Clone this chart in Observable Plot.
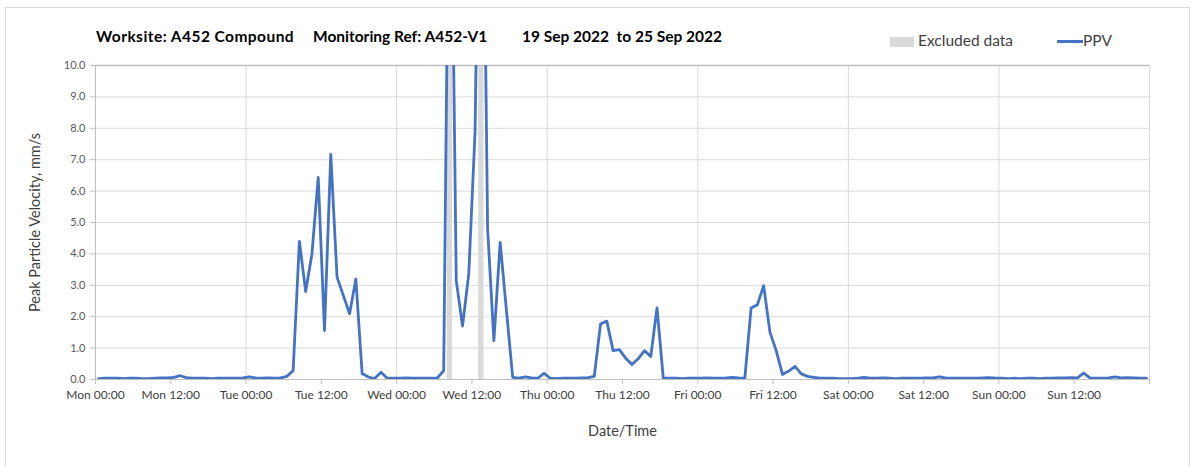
<!DOCTYPE html>
<html>
<head>
<meta charset="utf-8">
<script src="https://cdn.jsdelivr.net/npm/d3@7"></script>
<script src="https://cdn.jsdelivr.net/npm/@observablehq/plot@0.6"></script>
<style>
  body { margin: 0; background: #fff; font-family: Lato, "Open Sans", sans-serif; }
  #wrap { position: relative; width: 1203px; height: 466px; overflow: hidden; }
  #frame { position: absolute; left: 5px; top: 7px; width: 1185px; height: 470px; border: 1px solid #d9d9d9; box-sizing: border-box; }
  .title { position: absolute; top: 27px; font-weight: bold; font-size: 15.5px; color: #000; white-space: pre; }
  .leg { position: absolute; top: 31px; font-size: 15.5px; color: #404040; white-space: pre; }
  #chart { position: absolute; left: 0; top: 0; }
</style>
</head>
<body>
<div id="wrap">
  <div id="frame"></div>
  <div class="title" style="left:96px;letter-spacing:0.45px">Worksite: A452 Compound</div>
  <div class="title" style="left:313px">Monitoring Ref: A452-V1</div>
  <div class="title" style="left:522px">19 Sep 2022  to 25 Sep 2022</div>
  <div style="position:absolute;left:890px;top:37px;width:24px;height:10px;background:#d9d9d9"></div>
  <div class="leg" style="left:918px">Excluded data</div>
  <div style="position:absolute;left:1057px;top:40px;width:26px;height:3px;background:#4472C4"></div>
  <div class="leg" style="left:1083px">PPV</div>
  <div id="chart"></div>
</div>
<script>
// Hourly PPV values (mm/s), one row per day, Mon 19 Sep 2022 .. Sun 25 Sep 2022
const ppvMon = [0.03,0.04,0.04,0.04,0.03,0.04,0.04,0.03,0.03,0.04,0.05,0.05,0.07,0.12,0.06,0.04,0.04,0.04,0.03,0.04,0.04,0.04,0.04,0.05];
const ppvTue = [0.08,0.05,0.04,0.05,0.04,0.05,0.1,0.28,4.4,2.8,4.0,6.44,1.56,7.17,3.26,2.68,2.09,3.2,0.19,0.08,0.03,0.23,0.04,0.04];
const ppvWed = [0.04,0.05,0.04,0.04,0.04,0.04,0.05,0.28,20,3.15,1.7,3.37,7.9,22,4.8,1.24,4.37,2.2,0.07,0.04,0.08,0.05,0.04,0.2];
const ppvThu = [0.04,0.03,0.04,0.04,0.04,0.05,0.06,0.1,1.77,1.86,0.92,0.95,0.68,0.48,0.66,0.92,0.73,2.28,0.04,0.04,0.04,0.03,0.04,0.04];
const ppvFri = [0.04,0.05,0.04,0.04,0.05,0.07,0.05,0.04,2.28,2.38,2.99,1.51,0.92,0.16,0.27,0.42,0.18,0.1,0.07,0.04,0.04,0.04,0.03,0.03];
const ppvSat = [0.03,0.04,0.07,0.04,0.04,0.05,0.04,0.03,0.04,0.04,0.04,0.04,0.05,0.05,0.08,0.05,0.04,0.04,0.04,0.04,0.04,0.05,0.06,0.04];
const ppvSun = [0.04,0.03,0.04,0.03,0.04,0.04,0.03,0.04,0.04,0.05,0.05,0.06,0.05,0.2,0.05,0.04,0.04,0.05,0.08,0.05,0.06,0.05,0.04,0.04];

// Excluded data periods (UTC clock times)
const excludedStart = ["2022-09-21T08:05Z", "2022-09-21T13:05Z"];
const excludedEnd   = ["2022-09-21T08:55Z", "2022-09-21T13:55Z"];

const xTickLabels = ["Mon 00:00","Mon 12:00","Tue 00:00","Tue 12:00","Wed 00:00","Wed 12:00","Thu 00:00","Thu 12:00","Fri 00:00","Fri 12:00","Sat 00:00","Sat 12:00","Sun 00:00","Sun 12:00",""];
const yTicks = [0,1,2,3,4,5,6,7,8,9,10];
const yLabel = "Peak Particle Velocity, mm/s";
const xLabel = "Date/Time";

const start = new Date(Date.UTC(2022, 8, 19, 0, 0));
const end = new Date(Date.UTC(2022, 8, 26, 0, 0));
const H = 3600e3;

const values = [...ppvMon, ...ppvTue, ...ppvWed, ...ppvThu, ...ppvFri, ...ppvSat, ...ppvSun];
const data = values.map((v, i) => ({time: new Date(+start + (i + 0.5) * H), ppv: v}));
const excluded = excludedStart.map((s, i) => ({start: new Date(s), end: new Date(excludedEnd[i])}));
const xTicks = xTickLabels.map((_, i) => new Date(+start + i * 12 * H));
const dayTicks = xTicks.filter((_, i) => i % 2 === 0 && i > 0);

const chart = Plot.plot({
  width: 1203,
  height: 466,
  marginLeft: 95,
  marginRight: 54,
  marginTop: 65,
  marginBottom: 87,
  style: {fontFamily: "Lato, 'Open Sans', sans-serif", background: "transparent", color: "#595959"},
  x: {type: "utc", domain: [start, end]},
  y: {domain: [0, 10]},
  marks: [
    Plot.rect(excluded, {x1: "start", x2: "end", y1: 0, y2: 10, fill: "#d9d9d9"}),
    Plot.gridY(yTicks, {stroke: "#d9d9d9", strokeOpacity: 1, strokeWidth: 1}),
    Plot.gridX(dayTicks, {stroke: "#d9d9d9", strokeOpacity: 1, strokeWidth: 1}),
    Plot.ruleY([10], {stroke: "#bfbfbf", strokeWidth: 1.5}),
    Plot.ruleX([start], {stroke: "#bfbfbf", strokeWidth: 1}),
    Plot.ruleY([0], {stroke: "#bfbfbf", strokeWidth: 1}),
    Plot.axisY(yTicks, {tickFormat: d => d.toFixed(1), tickSize: 5, tickPadding: 5, stroke: "#bfbfbf", fill: "#595959", fontSize: 11, label: null}),
    Plot.axisX(xTicks, {tickFormat: (d, i) => xTickLabels[i], tickSize: 5, tickPadding: 6, stroke: "#bfbfbf", fill: "#404040", fontSize: 12, label: null}),
    Plot.lineY(data, {x: "time", y: "ppv", stroke: "#4472C4", strokeWidth: 2.8, clip: true}),
    Plot.text([yLabel], {frameAnchor: "left", textAnchor: "middle", dx: -60, rotate: -90, fontSize: 14.5, fill: "#404040"}),
    Plot.text([xLabel], {frameAnchor: "bottom", dy: 56, fontSize: 14.5, fill: "#404040"})
  ]
});
document.getElementById("chart").append(chart);
</script>
</body>
</html>
